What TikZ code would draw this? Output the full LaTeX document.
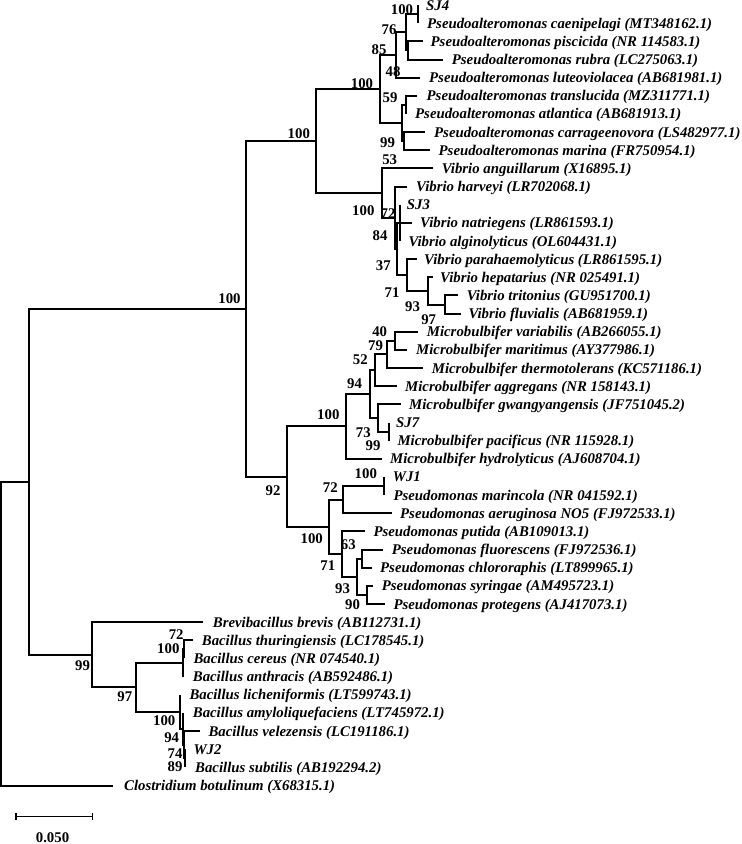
\documentclass[tikz,border=0pt]{standalone}
\usepackage{fontspec}
\setmainfont{Liberation Serif}
\begin{document}
\begin{tikzpicture}[x=1pt,y=-1pt,
  br/.style={line width=2pt},
  sbar/.style={line width=1.3pt},
  leaf/.style={anchor=base west, inner sep=0pt, yshift=-5pt, font=\fontsize{14.8}{16}\selectfont\bfseries\itshape},
  bs/.style={anchor=center, inner sep=0pt, font=\fontsize{14.8}{16}\selectfont\bfseries}]
\useasboundingbox (0,0) rectangle (742,844);
% ---------- internal nodes ----------
\coordinate (R0) at (1.2,633.6);
\coordinate (D)  at (29.3,481.75);
\coordinate (B)  at (246,308.8);
\coordinate (A)  at (315.7,141.0);
\coordinate (E)  at (380,88.95);
\coordinate (F)  at (395.7,54.9);
\coordinate (G)  at (406,32.25);
\coordinate (H)  at (418.3,14.1);
\coordinate (I)  at (407.7,50.4);
\coordinate (J)  at (401.7,123.0);
\coordinate (K)  at (405.5,104.85);
\coordinate (L)  at (404.3,141.15);
\coordinate (M)  at (381.7,193.05);
\coordinate (N)  at (395,217.7);
\coordinate (O)  at (397,248.9);
\coordinate (P)  at (398,222.8);
\coordinate (Pp) at (400,222.85);
\coordinate (Q)  at (406.7,275.0);
\coordinate (Qp) at (427.5,290.9);
\coordinate (Qq) at (444.5,304.5);
\coordinate (C)  at (286.7,476.65);
\coordinate (S)  at (346,426.45);
\coordinate (T)  at (370,394.1);
\coordinate (U)  at (375,370.3);
\coordinate (Z)  at (386.7,354.4);
\coordinate (Y)  at (395,340.8);
\coordinate (V)  at (378.3,417.9);
\coordinate (W)  at (389.3,431.55);
\coordinate (RR) at (329,526.85);
\coordinate (AA) at (343.3,499.6);
\coordinate (X1) at (384,486.0);
\coordinate (BB) at (341.7,554.1);
\coordinate (CC) at (357.3,576.75);
\coordinate (DD) at (361.7,558.6);
\coordinate (EE) at (367.3,594.9);
\coordinate (FF) at (92.3,654.7);
\coordinate (GG) at (135.7,687.3);
\coordinate (HH) at (183.3,662.95);
\coordinate (II) at (184,649.35);
\coordinate (JJ) at (180,711.7);
\coordinate (KK) at (183.3,728.75);
\coordinate (MM) at (183.8,744.6);
\coordinate (NN) at (185,758.25);
% ---------- leaf tips ----------
\coordinate (t0)  at (418.3,5.0);
\coordinate (t1)  at (418.3,23.2);
\coordinate (t2)  at (423.3,41.3);
\coordinate (t3)  at (443.3,59.5);
\coordinate (t4)  at (420,77.6);
\coordinate (t5)  at (417.3,95.8);
\coordinate (t6)  at (405.5,113.9);
\coordinate (t7)  at (425,132.1);
\coordinate (t8)  at (430,150.2);
\coordinate (t9)  at (433.3,168.4);
\coordinate (t10) at (407.3,186.5);
\coordinate (t11) at (400,204.7);
\coordinate (t12) at (411.7,222.8);
\coordinate (t13) at (400,241.0);
\coordinate (t14) at (416.7,259.1);
\coordinate (t15) at (432.5,277.3);
\coordinate (t16) at (458.3,295.4);
\coordinate (t17) at (461,313.6);
\coordinate (t18) at (418.3,331.7);
\coordinate (t19) at (406.7,349.9);
\coordinate (t20) at (423.3,368.0);
\coordinate (t21) at (396.7,386.2);
\coordinate (t22) at (401,404.3);
\coordinate (t23) at (389.3,422.5);
\coordinate (t24) at (389.3,440.6);
\coordinate (t25) at (381.7,458.8);
\coordinate (t26) at (384,476.9);
\coordinate (t27) at (384,495.1);
\coordinate (t28) at (391.7,513.2);
\coordinate (t29) at (365,531.4);
\coordinate (t30) at (383.3,549.5);
\coordinate (t31) at (371.7,567.7);
\coordinate (t32) at (373.3,585.8);
\coordinate (t33) at (385,604.0);
\coordinate (t34) at (203.3,622.1);
\coordinate (t35) at (192.7,640.3);
\coordinate (t36) at (184,658.4);
\coordinate (t37) at (183.3,676.6);
\coordinate (t38) at (180,694.7);
\coordinate (t39) at (183.3,712.9);
\coordinate (t40) at (200,731.0);
\coordinate (t41) at (185,749.2);
\coordinate (t42) at (185,767.3);
\coordinate (t43) at (113,785.5);
% ---------- branches ----------
\draw[br] (R0) |- (D);  \draw[br] (R0) |- (t43);
\draw[br] (D) |- (B);   \draw[br] (D) |- (FF);
\draw[br] (B) |- (A);   \draw[br] (B) |- (C);
\draw[br] (A) |- (E);   \draw[br] (A) |- (M);
\draw[br] (E) |- (F);   \draw[br] (E) |- (J);
\draw[br] (F) |- (G);   \draw[br] (F) |- (t4);
\draw[br] (G) |- (H);   \draw[br] (G) |- (I);
\draw[br] (H) |- (t0);  \draw[br] (H) |- (t1);
\draw[br] (I) |- (t2);  \draw[br] (I) |- (t3);
\draw[br] (J) |- (K);   \draw[br] (J) |- (L);
\draw[br] (K) |- (t5);  \draw[br] (K) |- (t6);
\draw[br] (L) |- (t7);  \draw[br] (L) |- (t8);
\draw[br] (M) |- (t9);  \draw[br] (M) |- (N);
\draw[br] (N) |- (t10); \draw[br] (N) |- (O);
\draw[br] (O) |- (P);   \draw[br] (O) |- (Q);
\draw[br] (P) |- (Pp);  \draw[br] (P) |- (t12);
\draw[br] (Pp) |- (t11); \draw[br] (Pp) |- (t13);
\draw[br] (Q) |- (t14); \draw[br] (Q) |- (Qp);
\draw[br] (Qp) |- (t15); \draw[br] (Qp) |- (Qq);
\draw[br] (Qq) |- (t16); \draw[br] (Qq) |- (t17);
\draw[br] (C) |- (S);   \draw[br] (C) |- (RR);
\draw[br] (S) |- (T);   \draw[br] (S) |- (t25);
\draw[br] (T) |- (U);   \draw[br] (T) |- (V);
\draw[br] (U) |- (Z);   \draw[br] (U) |- (t21);
\draw[br] (Z) |- (Y);   \draw[br] (Z) |- (t20);
\draw[br] (Y) |- (t18); \draw[br] (Y) |- (t19);
\draw[br] (V) |- (t22); \draw[br] (V) |- (W);
\draw[br] (W) |- (t23); \draw[br] (W) |- (t24);
\draw[br] (RR) |- (AA); \draw[br] (RR) |- (BB);
\draw[br] (AA) |- (X1); \draw[br] (AA) |- (t28);
\draw[br] (X1) |- (t26); \draw[br] (X1) |- (t27);
\draw[br] (BB) |- (t29); \draw[br] (BB) |- (CC);
\draw[br] (CC) |- (DD); \draw[br] (CC) |- (EE);
\draw[br] (DD) |- (t30); \draw[br] (DD) |- (t31);
\draw[br] (EE) |- (t32); \draw[br] (EE) |- (t33);
\draw[br] (FF) |- (t34); \draw[br] (FF) |- (GG);
\draw[br] (GG) |- (HH); \draw[br] (GG) |- (JJ);
\draw[br] (HH) |- (II); \draw[br] (HH) |- (t37);
\draw[br] (II) |- (t35); \draw[br] (II) |- (t36);
\draw[br] (JJ) |- (t38); \draw[br] (JJ) |- (KK);
\draw[br] (KK) |- (t39); \draw[br] (KK) |- (MM);
\draw[br] (MM) |- (t40); \draw[br] (MM) |- (NN);
\draw[br] (NN) |- (t41); \draw[br] (NN) |- (t42);
% ---------- leaf labels ----------
\node[leaf] (n0)  at (426,5.0)     {SJ4};
\node[leaf] (n1)  at (427,23.2)    {Pseudoalteromonas caenipelagi (MT348162.1)};
\node[leaf] (n2)  at (430.5,41.3)  {Pseudoalteromonas piscicida (NR 114583.1)};
\node[leaf] (n3)  at (451.7,59.5)  {Pseudoalteromonas rubra (LC275063.1)};
\node[leaf] (n4)  at (429,77.6)    {Pseudoalteromonas luteoviolacea (AB681981.1)};
\node[leaf] (n5)  at (426.5,95.8)  {Pseudoalteromonas translucida (MZ311771.1)};
\node[leaf] (n6)  at (415,113.9)   {Pseudoalteromonas atlantica (AB681913.1)};
\node[leaf] (n7)  at (434,132.1)   {Pseudoalteromonas carrageenovora (LS482977.1)};
\node[leaf] (n8)  at (438.5,150.2) {Pseudoalteromonas marina (FR750954.1)};
\node[leaf] (n9)  at (441.7,168.4) {Vibrio anguillarum (X16895.1)};
\node[leaf] (n10) at (416,186.5)   {Vibrio harveyi (LR702068.1)};
\node[leaf] (n11) at (406.7,204.7) {SJ3};
\node[leaf] (n12) at (420,222.8)   {Vibrio natriegens (LR861593.1)};
\node[leaf] (n13) at (408.3,241.0) {Vibrio alginolyticus (OL604431.1)};
\node[leaf] (n14) at (424,259.1)   {Vibrio parahaemolyticus (LR861595.1)};
\node[leaf] (n15) at (440,277.3)   {Vibrio hepatarius (NR 025491.1)};
\node[leaf] (n16) at (466.7,295.4) {Vibrio tritonius (GU951700.1)};
\node[leaf] (n17) at (468.3,313.6) {Vibrio fluvialis (AB681959.1)};
\node[leaf] (n18) at (426.7,331.7) {Microbulbifer variabilis (AB266055.1)};
\node[leaf] (n19) at (416,349.9)   {Microbulbifer maritimus (AY377986.1)};
\node[leaf] (n20) at (431.7,368.0) {Microbulbifer thermotolerans (KC571186.1)};
\node[leaf] (n21) at (405,386.2)   {Microbulbifer aggregans (NR 158143.1)};
\node[leaf] (n22) at (409,404.3)   {Microbulbifer gwangyangensis (JF751045.2)};
\node[leaf] (n23) at (396,422.5)   {SJ7};
\node[leaf] (n24) at (397.3,440.6) {Microbulbifer pacificus (NR 115928.1)};
\node[leaf] (n25) at (390,458.8)   {Microbulbifer hydrolyticus (AJ608704.1)};
\node[leaf] (n26) at (392.7,476.9) {WJ1};
\node[leaf] (n27) at (393.3,495.1) {Pseudomonas marincola (NR 041592.1)};
\node[leaf] (n28) at (400,513.2)   {Pseudomonas aeruginosa NO5 (FJ972533.1)};
\node[leaf] (n29) at (373.3,531.4) {Pseudomonas putida (AB109013.1)};
\node[leaf] (n30) at (391.7,549.5) {Pseudomonas fluorescens (FJ972536.1)};
\node[leaf] (n31) at (380,567.7)   {Pseudomonas chlororaphis (LT899965.1)};
\node[leaf] (n32) at (381.7,585.8) {Pseudomonas syringae (AM495723.1)};
\node[leaf] (n33) at (393.3,604.0) {Pseudomonas protegens (AJ417073.1)};
\node[leaf] (n34) at (212.7,622.1) {Brevibacillus brevis (AB112731.1)};
\node[leaf] (n35) at (201.7,640.3) {Bacillus thuringiensis (LC178545.1)};
\node[leaf] (n36) at (193.3,658.4) {Bacillus cereus (NR 074540.1)};
\node[leaf] (n37) at (192.7,676.6) {Bacillus anthracis (AB592486.1)};
\node[leaf] (n38) at (189.3,694.7) {Bacillus licheniformis (LT599743.1)};
\node[leaf] (n39) at (192.7,712.9) {Bacillus amyloliquefaciens (LT745972.1)};
\node[leaf] (n40) at (208.3,731.0) {Bacillus velezensis (LC191186.1)};
\node[leaf] (n41) at (193.3,749.2) {WJ2};
\node[leaf] (n42) at (195,767.3)   {Bacillus subtilis (AB192294.2)};
\node[leaf] (n43) at (124,785.5)   {Clostridium botulinum (X68315.1)};
% ---------- bootstrap values ----------
\node[bs] (bH)  at (402,10)      {100};
\node[bs] (bG)  at (389,29.3)    {76};
\node[bs] (bF)  at (379,50)      {85};
\node[bs] (bI)  at (393,71.7)    {48};
\node[bs] (bE)  at (362,83.3)    {100};
\node[bs] (bK)  at (390,98)      {59};
\node[bs] (bL)  at (387.5,142.7) {99};
\node[bs] (bA)  at (298.8,134)   {100};
\node[bs] (bB)  at (229.5,299)   {100};
\node[bs] (bM1) at (389.7,160)   {53};
\node[bs] (bM2) at (363.3,211)   {100};
\node[bs] (bP)  at (388,213.5)   {72};
\node[bs] (bO)  at (380,236)     {84};
\node[bs] (bQ)  at (383.3,266)   {37};
\node[bs] (bQp) at (392,292.7)   {71};
\node[bs] (bQq) at (412.5,306.7) {93};
\node[bs] (bQr) at (428.7,319.8) {97};
\node[bs] (bY)  at (379.7,331.7) {40};
\node[bs] (bZ)  at (375.5,345.5) {79};
\node[bs] (bU)  at (360.3,360)   {52};
\node[bs] (bT)  at (354.5,383.3) {94};
\node[bs] (bS)  at (328.3,415)   {100};
\node[bs] (bV)  at (363.3,432.7) {73};
\node[bs] (bW)  at (373,446)     {99};
\node[bs] (bC)  at (273,490.7)   {92};
\node[bs] (bAA) at (330.3,487.3) {72};
\node[bs] (bX1) at (365.8,474)   {100};
\node[bs] (bRR) at (311.7,539)   {100};
\node[bs] (bDD) at (348.3,545)   {63};
\node[bs] (bBB) at (327.8,566)   {71};
\node[bs] (bCC) at (342.5,588.3) {93};
\node[bs] (bEE) at (352.5,605)   {90};
\node[bs] (bFF) at (82.5,666)    {99};
\node[bs] (bGG) at (124.8,696.7) {97};
\node[bs] (bII) at (176.2,634.3) {72};
\node[bs] (bHH) at (168.3,648.3) {100};
\node[bs] (bJJ) at (164.2,720.7) {100};
\node[bs] (bKK) at (171.7,737.7) {94};
\node[bs] (bMM) at (175,753.3)   {74};
\node[bs] (bNN) at (175,767)     {89};
% ---------- scale bar ----------
\coordinate (sb1) at (16,816.7);
\coordinate (sb2) at (92.7,816.7);
\draw[sbar] (sb1) -- (sb2);
\draw[sbar] ([yshift=3.5pt]sb1) -- ([yshift=-3.5pt]sb1);
\draw[sbar] ([yshift=3.5pt]sb2) -- ([yshift=-3.5pt]sb2);
\node[bs] (sbt) at (52.5,837.5) {0.050};
\end{tikzpicture}
\end{document}
